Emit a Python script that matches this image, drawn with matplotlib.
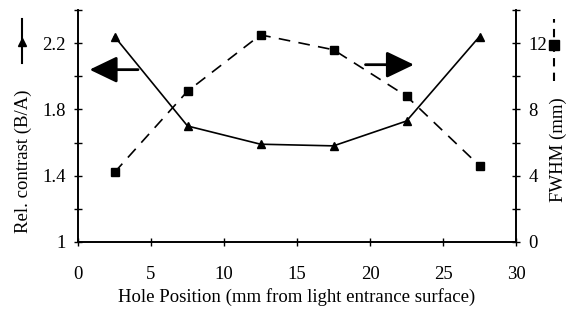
import matplotlib.pyplot as plt
from matplotlib.lines import Line2D

plt.rcParams['font.family'] = ['Liberation Serif', 'DejaVu Serif']
plt.rcParams['font.size'] = 13.5

positions = [2.5, 7.5, 12.5, 17.5, 22.5, 27.5]
contrast = [2.24, 1.70, 1.59, 1.58, 1.73, 2.24]
fwhm = [4.2, 9.1, 12.5, 11.6, 8.8, 4.6]

fig = plt.figure(figsize=(5.75, 3.13), dpi=100)
ax = fig.add_axes([0.1357, 0.227, 0.7617, 0.741])
ax2 = ax.twinx()

ax.plot(positions, contrast, color='black', lw=1.2, marker='^', ms=6)
ax2.plot(positions, fwhm, color='black', lw=1.2, ls=(0, (7, 5)), marker='s', ms=6)

ax.set_xlim(0, 30)
ax.set_ylim(1, 2.4)
ax2.set_ylim(0, 14)
ax.set_xticks(range(0, 31, 5))
ax.set_yticks([1, 1.4, 1.8, 2.2])
ax.set_yticklabels(['1', '1.4', '1.8', '2.2'])
ax.set_yticks([1.2, 1.6, 2.0, 2.4], minor=True)
ax2.set_yticks([0, 4, 8, 12])
ax2.set_yticks([2, 6, 10, 14], minor=True)

for a in (ax, ax2):
    a.spines['top'].set_visible(False)
    for s in a.spines.values():
        s.set_linewidth(1.2)
    a.tick_params(direction='inout', length=6, width=1, pad=6)
    a.tick_params(which='minor', direction='inout', length=6, width=1)
ax.tick_params(axis='x', pad=14)

ax.set_xlabel('Hole Position (mm from light entrance surface)', labelpad=4)
ax.set_ylabel('Rel. contrast (B/A)', labelpad=7, y=0.35)
ax2.set_ylabel('FWHM (mm)', labelpad=2, y=0.40)

# arrows pointing to the matching axis
style = dict(arrowstyle='-|>,head_length=1.25,head_width=0.6', color='black', lw=2)
ax.annotate('', xy=(0.6, 2.04), xytext=(4.3, 2.04), arrowprops=style)
ax.annotate('', xy=(23.2, 2.07), xytext=(19.5, 2.07), arrowprops=style)

# series symbols next to the axis titles
fig.add_artist(Line2D([0.038, 0.038], [0.80, 0.94], color='black', lw=1.5))
fig.add_artist(Line2D([0.038], [0.865], color='black', marker='^', ms=6))
fig.add_artist(Line2D([0.963, 0.963], [0.74, 0.94], color='black', lw=1.5, ls=(0, (4, 3))))
fig.add_artist(Line2D([0.963], [0.855], color='black', marker='s', ms=7))

fig.savefig('out.png', dpi=100)
